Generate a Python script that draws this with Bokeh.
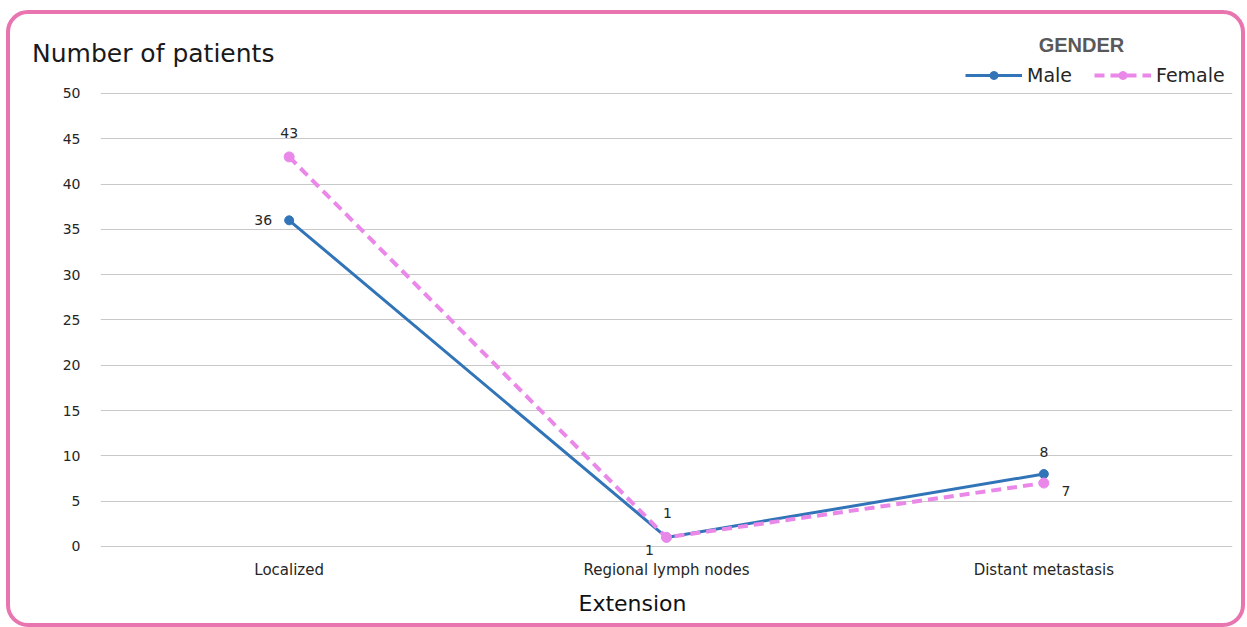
from bokeh.plotting import figure
from bokeh.layouts import column
from bokeh.models import Range1d, FactorRange, Legend, LegendItem, ColumnDataSource, Title, Div
from bokeh.core.properties import value
from bokeh.embed import file_html
from bokeh.resources import INLINE

# ---- data ----
categories = ["Localized", "Regional lymph nodes", "Distant metastasis"]
male = [36, 1, 8]
female = [43, 1, 7]
y_ticks = [0, 5, 10, 15, 20, 25, 30, 35, 40, 45, 50]
series_names = ["Male", "Female"]
legend_title = "GENDER"
y_title = "Number of patients"
x_title = "Extension"

# ---- styles ----
male_color = "#3274b8"
female_color = "#ea88ea"
grid_color = "#c8c8c8"
text_color = "#262626"
font = "DejaVu Sans"
male_off_x = [-26, -17, 0]
male_off_y = [0, 13, -22]
female_off_x = [0, 1, 22]
female_off_y = [-24, -24, 8]

W = 1231
HEAD_H = 40      # Div adds a 5px margin on each side
MAIN_H = 559
TOTAL_H = 617

# ---------- header texts ----------
head_html = (
    f'<div style="position:relative;width:{W}px;height:{HEAD_H}px;">'
    f'<span style="position:absolute;left:17px;top:21.5px;white-space:nowrap;'
    f'font-family:\'DejaVu Sans\';font-size:25px;line-height:25px;color:#1a1a1a;">{y_title}</span>'
    f'<span style="position:absolute;left:1066.5px;top:15.6px;transform:translateX(-50%);white-space:nowrap;'
    f'font-family:\'Liberation Sans\';font-weight:bold;font-size:20px;line-height:20px;color:#595959;">{legend_title}</span>'
    '</div>'
)
head = Div(text=head_html, width=W, height=HEAD_H, styles={"overflow": "visible"})

# ---------- main chart ----------
p = figure(
    x_range=FactorRange(*categories, range_padding=0),
    y_range=Range1d(-1.55, 53.2),
    width=W, height=MAIN_H,
    output_backend="svg", toolbar_location=None, title_location=None,
    min_border_left=90, min_border_right=9,
    min_border_top=0, min_border_bottom=63,
)
p.outline_line_color = None
p.background_fill_alpha = 0
p.border_fill_alpha = 0
p.xgrid.grid_line_color = None
p.ygrid.grid_line_color = grid_color
p.ygrid.grid_line_width = 1

p.yaxis.ticker = y_ticks
p.yaxis.axis_line_color = None
p.yaxis.major_tick_line_color = None
p.yaxis.minor_tick_line_color = None
p.yaxis.major_tick_out = 0
p.yaxis.major_tick_in = 0
p.yaxis.major_label_standoff = 20
p.yaxis.major_label_text_font = font
p.yaxis.major_label_text_font_size = "14px"
p.yaxis.major_label_text_color = text_color

p.xaxis.axis_line_color = None
p.xaxis.major_tick_line_color = None
p.xaxis.minor_tick_line_color = None
p.xaxis.major_tick_out = 0
p.xaxis.major_tick_in = 0
p.xaxis.major_label_standoff = 0
p.xaxis.major_label_text_font = font
p.xaxis.major_label_text_font_size = "15px"
p.xaxis.major_label_text_color = text_color

rm = p.line(x=categories, y=male, line_color=male_color, line_width=3)
sm = p.scatter(x=categories, y=male, size=9, fill_color=male_color, line_color=male_color)
rf = p.line(x=categories, y=female, line_color=female_color, line_width=4, line_dash="10 6")
sf = p.scatter(x=categories, y=female, size=10, fill_color=female_color, line_color=female_color)

src = ColumnDataSource(dict(
    x=categories + categories,
    y=male + female,
    t=[str(v) for v in male + female],
    xo=male_off_x + female_off_x,
    yo=male_off_y + female_off_y,
))
p.text(x="x", y="y", text="t", x_offset="xo", y_offset="yo", source=src,
       text_align="center", text_baseline="middle",
       text_font=value(font), text_font_size="14px", text_color=text_color)

legend = Legend(
    items=[LegendItem(label=series_names[0], renderers=[rm, sm]),
           LegendItem(label=series_names[1], renderers=[rf, sf])],
    orientation="horizontal", location=(865, 474),
    padding=0, margin=0, spacing=22,
    glyph_width=57, glyph_height=20, label_height=20, label_standoff=5,
    background_fill_alpha=0, border_line_color=None,
    label_text_font=font, label_text_font_size="19px", label_text_color=text_color,
)
p.add_layout(legend)

p.add_layout(Title(text=x_title, align="left", offset=478, vertical_align="bottom", standoff=14,
                   text_font=font, text_font_size="22px", text_font_style="normal",
                   text_color="#111111"), "below")

layout = column(head, p, width=W + 8, height=TOTAL_H,
                styles={"border": "4px solid #e874b0", "border-radius": "22px",
                        "overflow": "hidden", "margin-left": "6px", "margin-top": "10px",
                        "background": "white"})

open("out.html", "w").write(file_html(layout, INLINE))
